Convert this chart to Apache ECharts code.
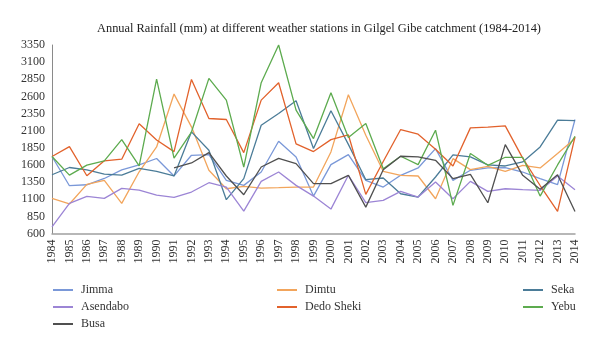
<!DOCTYPE html>
<html>
<head>
<meta charset="utf-8">
<title>Annual Rainfall – Gilgel Gibe</title>
<script src="https://cdn.jsdelivr.net/npm/echarts@6/dist/echarts.min.js"></script>
<style>
  html, body { margin: 0; padding: 0; background: #fff; }
  #chart { width: 600px; height: 348px; }
</style>
</head>
<body>
<div id="chart"></div>
<script>
// Years of record
const years = [1984,1985,1986,1987,1988,1989,1990,1991,1992,1993,1994,1995,1996,1997,1998,1999,
               2000,2001,2002,2003,2004,2005,2006,2007,2008,2009,2010,2011,2012,2013,2014].map(String);

// Annual rainfall (mm) per station
const jimma     = [1723,1297,1311,1403,1529,1602,1694,1440,1741,1751,1375,1302,1497,1946,1717,1146,
                   1605,1751,1375,1278,1449,1556,1839,1375,1522,1556,1561,1497,1400,1312,2263];
const dimtu     = [1113,1031,1316,1374,1040,1500,1863,2634,2156,1522,1253,1288,1263,1268,1278,1278,
                   1790,2624,2034,1507,1449,1439,1107,1692,1532,1580,1507,1595,1556,1766,1985];
const seka      = [1457,1563,1529,1466,1452,1549,1505,1440,2083,1814,1093,1400,2180,2351,2536,1839,
                   2390,1900,1385,1410,1180,1132,1424,1746,1717,1600,1585,1644,1863,2253,2248];
const asendabo  = [697,1040,1142,1113,1258,1234,1161,1128,1205,1341,1278,927,1361,1497,1302,1146,
                   956,1449,1049,1083,1215,1132,1351,1107,1361,1215,1253,1239,1229,1439,1239];
const dedoSheki = [1723,1868,1442,1660,1684,2202,1965,1795,2848,2278,2263,1780,2546,2800,1907,1795,
                   1970,2040,1171,1650,2117,2048,1830,1585,2141,2151,2170,1700,1300,922,2009];
const yebu      = [1723,1452,1597,1660,1970,1588,2851,1700,2080,2863,2546,1570,2800,3350,2400,1985,
                   2653,2000,2204,1546,1727,1605,2107,1010,1766,1595,1712,1712,1146,1600,2019];
const busa      = [null,null,null,null,null,null,null,1556,1629,1780,1439,1166,1570,1697,1619,1327,
                   1327,1449,985,1531,1727,1717,1668,1400,1463,1049,1897,1449,1244,1458,922];

// Y axis tick values
const yTicks = [600,850,1100,1350,1600,1850,2100,2350,2600,2850,3100,3350];

const FONT = 'Liberation Serif';

const stations = [
  { name: 'Jimma',      data: jimma,     color: '#7a98d8' },
  { name: 'Dimtu',      data: dimtu,     color: '#f2a55c' },
  { name: 'Seka',       data: seka,      color: '#4b7c98' },
  { name: 'Asendabo',   data: asendabo,  color: '#9c85d5' },
  { name: 'Dedo Sheki', data: dedoSheki, color: '#e2622c' },
  { name: 'Yebu',       data: yebu,      color: '#5dab4f' },
  { name: 'Busa',       data: busa,      color: '#505050' }
];

// One vertical legend block per column
function legendColumn(names, left) {
  return {
    orient: 'vertical',
    left: left,
    top: 283,
    padding: 0,
    data: names,
    icon: 'rect',
    itemWidth: 20,
    itemHeight: 2,
    itemGap: 3,
    selectedMode: false,
    textStyle: { fontFamily: FONT, fontSize: 12, color: '#333', lineHeight: 14, padding: [0, 0, 0, 3] }
  };
}

const chart = echarts.init(document.getElementById('chart'), null, { renderer: 'canvas' });

chart.setOption({
  animation: false,
  backgroundColor: '#fff',
  title: {
    text: 'Annual Rainfall (mm) at different weather stations in Gilgel Gibe catchment (1984-2014)',
    left: 314,
    textAlign: 'center',
    top: 18,
    textStyle: { fontFamily: FONT, fontSize: 12.4, fontWeight: 'normal', color: '#222' }
  },
  legend: [
    legendColumn(['Jimma', 'Asendabo', 'Busa'], 53),
    legendColumn(['Dimtu', 'Dedo Sheki'], 277),
    legendColumn(['Seka', 'Yebu'], 523)
  ],
  grid: { left: 52, right: 25, top: 45, bottom: 114.5, containLabel: false },
  xAxis: {
    type: 'category',
    data: years,
    boundaryGap: false,
    axisLine: { lineStyle: { color: '#a0a0a0', width: 1.5 } },
    axisTick: { show: false },
    axisLabel: { rotate: 90, margin: 6, interval: 0, fontFamily: FONT, fontSize: 12, color: '#333' }
  },
  yAxis: {
    type: 'value',
    min: yTicks[0],
    max: yTicks[yTicks.length - 1],
    interval: 250,
    splitLine: { show: false },
    axisLine: { show: true, lineStyle: { color: '#8a8a8a', width: 1 } },
    axisTick: { show: false },
    axisLabel: {
      margin: 7, fontFamily: FONT, fontSize: 12, color: '#333',
      formatter: v => String(v)
    }
  },
  series: stations.map(s => ({
    name: s.name,
    type: 'line',
    data: s.data,
    symbol: 'none',
    connectNulls: false,
    lineStyle: { width: 1.3, color: s.color },
    itemStyle: { color: s.color }
  }))
});
</script>
</body>
</html>
